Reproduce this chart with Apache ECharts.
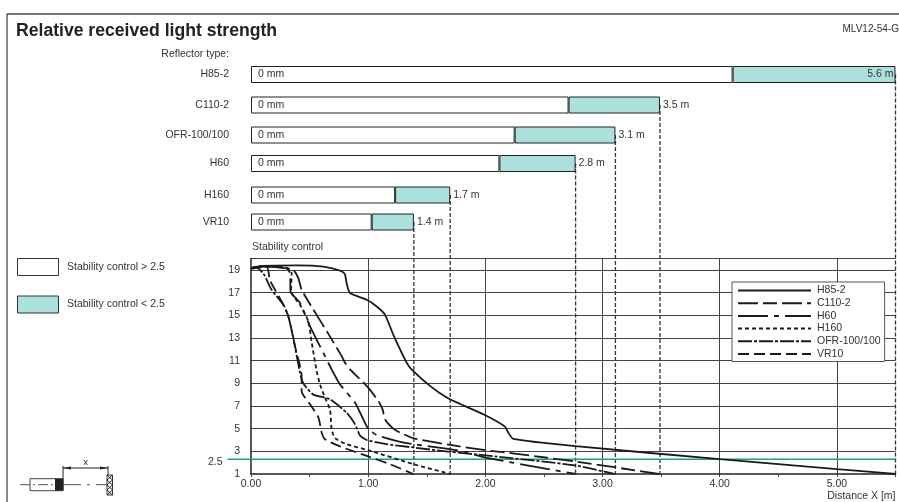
<!DOCTYPE html>
<html><head><meta charset="utf-8">
<style>html,body{margin:0;padding:0;background:#fff}#c{width:899px;height:502px}</style>
<script src="https://cdn.jsdelivr.net/npm/echarts@6/dist/echarts.min.js"></script>
</head><body><div id="c"></div>
<script>
const reflectors = ['H85-2','C110-2','OFR-100/100','H60','H160','VR10'];
const stableUntil = [4.11,2.71,2.25,2.12,1.23,1.03];
const reachEnd = [5.5,3.49,3.11,2.77,1.70,1.39];
const reachLabels = ['5.6 m','3.5 m','3.1 m','2.8 m','1.7 m','1.4 m'];
const startLabel = '0 mm';
const thresholdValue = 2.3;
const thresholdLabel = '2.5';
const thresholdX = [-0.2,5.5];

const curveH85 = [[0,19.15],[0.105,19.35],[0.39,19.4],[0.617,19.3],[0.76,18.94],[0.80,18.65],[0.816,17.83],[0.845,16.96],[0.987,16.37],[1.07,15.8],[1.143,15.06],[1.214,13.3],[1.328,10.82],[1.37,10.23],[1.527,8.77],[1.67,7.74],[1.78,7.2],[2.0,6.18],[2.167,5.18],[2.195,4.66],[2.238,4.1],[2.77,3.46],[4.0,2.31],[5.0,1.43],[5.5,1.0]];
const curveC110 = [[0,19.15],[0.1,19.35],[0.247,19.2],[0.361,19],[0.404,18.27],[0.432,17.25],[0.532,15.5],[0.646,13.6],[0.774,11.4],[0.802,10.82],[0.845,10.23],[0.987,8.77],[1.086,7.45],[1.123,6.7],[1.143,5.83],[1.214,5.0],[1.27,4.66],[1.385,4.16],[1.527,3.87],[1.78,3.43],[2.0,3.1],[2.25,2.8],[2.77,2.1],[3.1,1.6],[3.48,1.0]];
const curveH60 = [[0,19.15],[0.1,19.3],[0.304,19.15],[0.333,18.7],[0.338,17.1],[0.418,16.08],[0.503,14.04],[0.631,11.4],[0.688,10.23],[0.76,8.9],[0.887,7.3],[0.944,6.13],[1.0,5.0],[1.07,4.45],[1.24,3.93],[1.385,3.63],[1.78,3.05],[2.0,2.45],[2.77,1.0]];
const curveH160 = [[0,19.15],[0.1,19.3],[0.304,19.2],[0.347,18.7],[0.341,17.1],[0.418,15.93],[0.489,14.47],[0.518,12.6],[0.56,10.1],[0.589,8.9],[0.631,7.74],[0.674,6.7],[0.688,4.95],[0.717,4.16],[0.816,3.63],[1.0,3.1],[1.385,1.87],[1.7,1.0]];
const curveOFR = [[0,19.1],[0.034,19.3],[0.105,18.7],[0.176,17.25],[0.276,15.93],[0.319,14.9],[0.361,13.0],[0.418,9.95],[0.446,9.0],[0.532,8.0],[0.674,7.6],[0.816,6.4],[0.887,5.4],[0.93,4.4],[0.987,4.0],[1.157,3.63],[1.385,3.34],[1.698,2.95],[2.0,2.65],[2.77,1.75],[3.1,1.0]];
const curveVR10 = [[0,19.1],[0.134,19.3],[0.162,18.1],[0.276,15.93],[0.319,14.9],[0.375,12.3],[0.432,9.65],[0.432,8.3],[0.503,7.15],[0.575,6.0],[0.603,4.66],[0.631,4.07],[0.76,3.43],[1.0,2.55],[1.185,1.87],[1.385,1.0]];
const legendNames = ['H85-2','C110-2','H60','H160','OFR-100/100','VR10'];
const stableNames = ['Stability control > 2.5','Stability control < 2.5'];

// layout
const W=899,H=502,plotL=251,plotR=3.5,plotT=258.6,plotB=27,xMax=5.5;
const rowTops=[66,96.5,126.5,155,186.5,213.5],rowH=17;
const FONT='"Liberation Sans",Arial,sans-serif',TXT='#333',INK='#222',TEAL='#ace0dd',FS=10.5;
const plotBottom=H-plotB;

const grid=[{left:plotL,right:plotR,top:plotT,bottom:plotB,show:false}];
const xAxis=[{gridIndex:0,type:'value',min:0,max:xMax,interval:1,
  name:'Distance X [m]',nameLocation:'end',nameGap:0,
  nameTextStyle:{fontFamily:FONT,fontSize:FS,color:TXT,align:'right',verticalAlign:'top',padding:[17,0,0,0]},
  axisLine:{show:true,onZero:false,lineStyle:{color:INK,width:1.5}},
  axisTick:{show:true,length:3,lineStyle:{color:'#444'}},
  minorTick:{show:true,splitNumber:2,length:3,lineStyle:{color:'#444'}},
  axisLabel:{showMaxLabel:false,fontFamily:FONT,fontSize:FS,color:TXT,margin:5,formatter:v=>v.toFixed(2)},
  splitLine:{show:true,showMaxLine:false,showMinLine:false,lineStyle:{color:'#444',width:1}}}];
const yAxis=[{gridIndex:0,type:'value',min:1,max:20,interval:2,
  axisLine:{show:true,onZero:false,lineStyle:{color:INK,width:1.5}},axisTick:{show:false},
  axisLabel:{showMaxLabel:false,fontFamily:FONT,fontSize:FS,color:TXT,margin:11},
  splitLine:{show:true,showMaxLine:true,showMinLine:false,lineStyle:{color:'#444',width:1}}}];

const series=[];
reflectors.forEach((r,i)=>{
  const g=i+1;
  grid.push({left:plotL,right:plotR,top:rowTops[i],height:rowH,show:false});
  xAxis.push({gridIndex:g,type:'value',min:0,max:xMax,show:false});
  yAxis.push({gridIndex:g,type:'category',data:[r],axisLine:{show:false},axisTick:{show:false},
    axisLabel:{fontFamily:FONT,fontSize:FS,color:TXT,margin:22,padding:[0,0,2,0]}});
  series.push({type:'custom',xAxisIndex:g,yAxisIndex:g,z:1,silent:true,data:[[reachEnd[i],0]],
    renderItem:(p,api)=>{const c=api.coord([api.value(0),0]);
      return {type:'line',shape:{x1:c[0],y1:c[1],x2:c[0],y2:plotBottom},
        style:{stroke:'#333',lineWidth:1.3,lineDash:[4,2]}};}});
  series.push({type:'bar',name:stableNames[0],xAxisIndex:g,yAxisIndex:g,stack:'r'+i,barWidth:rowH,z:3,
    itemStyle:{color:'#fff',borderColor:INK,borderWidth:1},
    label:{show:true,position:'insideLeft',distance:7,formatter:startLabel,fontFamily:FONT,fontSize:FS,color:TXT},
    data:[stableUntil[i]]});
  series.push({type:'bar',name:stableNames[1],xAxisIndex:g,yAxisIndex:g,stack:'r'+i,barWidth:rowH,z:3,
    itemStyle:{color:TEAL,borderColor:INK,borderWidth:1},
    label:{show:true,position:i===0?'insideRight':'right',distance:i===0?2:3,formatter:reachLabels[i],fontFamily:FONT,fontSize:FS,color:TXT},
    data:[+(reachEnd[i]-stableUntil[i]).toFixed(2)]});
});

const curve=(name,data,dash)=>({type:'line',name,xAxisIndex:0,yAxisIndex:0,data,symbol:'none',smooth:0.2,z:5,
  lineStyle:{color:'#1a1a1a',width:1.8,type:dash}});
series.push(curve('H85-2',curveH85,'solid'));
series.push(curve('C110-2',curveC110,[20,5,14,5]));
series.push(curve('H60',curveH60,[30,6,5,6]));
series.push(curve('H160',curveH160,[4,3]));
series.push(curve('OFR-100/100',curveOFR,[14,2,3,2]));
series.push(curve('VR10',curveVR10,[11,5]));
series.push({type:'custom',xAxisIndex:0,yAxisIndex:0,z:4,silent:true,clip:false,data:[[0,thresholdValue]],
  renderItem:(p,api)=>{
    const c=api.coord([0,api.value(1)]),u=api.size([1,0])[0];
    const x1=c[0]+thresholdX[0]*u,x2=c[0]+thresholdX[1]*u;
    return {type:'group',children:[
      {type:'line',shape:{x1,y1:c[1],x2,y2:c[1]},style:{stroke:'#1fa463',lineWidth:1.3}},
      {type:'text',x:x1-5,y:c[1]+3,style:{text:thresholdLabel,align:'right',verticalAlign:'middle',fontFamily:FONT,fontSize:FS,fill:TXT}}
    ]};}});

const txt=(x,y,text,o={})=>({type:'text',x,y,silent:true,style:Object.assign({text,fontFamily:FONT,fontSize:FS,fill:TXT,verticalAlign:'middle'},o)});
const ln=(x1,y1,x2,y2,o={})=>({type:'line',silent:true,shape:{x1,y1,x2,y2},style:Object.assign({stroke:INK,lineWidth:1},o)});
const graphics=[
  ln(7,14,W,14,{stroke:'#444',lineWidth:1.3}),ln(7,14,7,H,{stroke:'#444',lineWidth:1.3}),
  txt(16,31,'Relative received light strength',{fontSize:17.6,fontWeight:'bold',fill:'#222'}),
  txt(899,29,'MLV12-54-G',{fontSize:10,align:'right'}),
  txt(229,54,'Reflector type:',{align:'right'}),
  txt(252,247,'Stability control'),
  // sensor sketch
  ln(20,484.7,55,484.7,{lineDash:[10,3,2,3],stroke:'#555'}),ln(63,484.7,107,484.7,{lineDash:[18,6,3,6],stroke:'#555'}),
  {type:'rect',silent:true,shape:{x:30,y:478.7,width:33,height:12},style:{fill:'none',stroke:'#444',lineWidth:1}},
  {type:'rect',silent:true,shape:{x:55,y:478.7,width:8.5,height:12},style:{fill:'#222'}},
  ln(63,466,63,479),ln(108,466,108,475),ln(63,468,108,468),
  {type:'polygon',silent:true,shape:{points:[[63,468],[71,466.5],[71,469.5]]},style:{fill:'#222'}},
  {type:'polygon',silent:true,shape:{points:[[108,468],[100,466.5],[100,469.5]]},style:{fill:'#222'}},
  txt(85.5,462,'x',{align:'center',fontSize:9.5}),
  {type:'rect',silent:true,shape:{x:107,y:475,width:5.5,height:20},style:{fill:'#fff',stroke:'#333',lineWidth:1}},
  ln(107,475,112.5,480),ln(112.5,480,107,485),ln(107,485,112.5,490),ln(112.5,490,107,495),
  ln(112.5,475,107,480),ln(107,480,112.5,485),ln(112.5,485,107,490),ln(107,490,112.5,495)
];

const chart=echarts.init(document.getElementById('c'),null,{renderer:'canvas',width:W,height:H});
chart.setOption({animation:false,backgroundColor:'#fff',tooltip:{show:false},
  grid,xAxis,yAxis,series,graphic:{elements:graphics},
  legend:[
    {data:stableNames.map(name=>({name,icon:'rect'})),orient:'vertical',left:17,top:258,padding:0,itemWidth:41,itemHeight:17,itemGap:19.5,selectedMode:false,
     itemStyle:{borderWidth:1,borderColor:'#333'},
     textStyle:{fontFamily:FONT,fontSize:FS,color:TXT,padding:[0,0,0,3.5]}},
    {data:legendNames,orient:'vertical',left:732,top:282,padding:[3,4,2,5],itemWidth:73,itemHeight:11,itemGap:1.7,selectedMode:false,z:20,
     itemStyle:{opacity:0},
     backgroundColor:'#fff',borderColor:'#555',borderWidth:1,
     textStyle:{fontFamily:FONT,fontSize:FS,color:TXT,padding:[0,0,0,1]}}
  ]});
</script></body></html>
